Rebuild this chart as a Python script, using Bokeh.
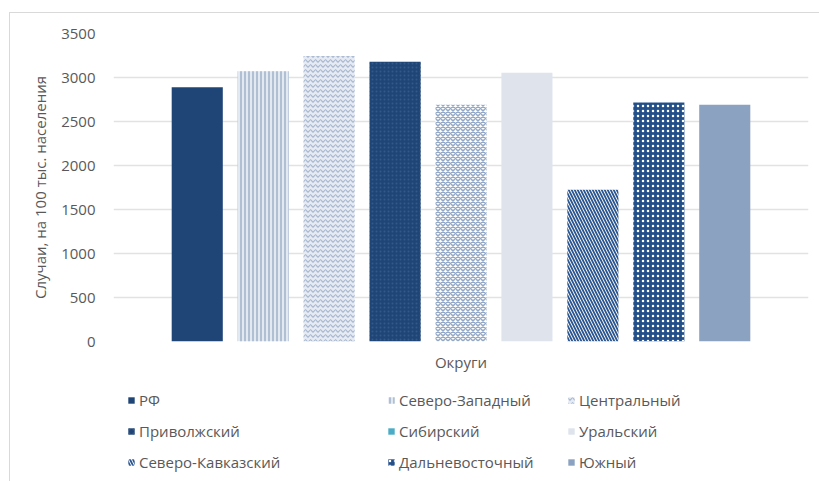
from bokeh.plotting import figure
from bokeh.layouts import column
from bokeh.models import Range1d, FixedTicker, Legend, LegendItem
from bokeh.embed import file_html
from bokeh.resources import INLINE

# Districts and incidence per 100 thousand population
districts = ["РФ", "Северо-Западный", "Центральный", "Приволжский", "Сибирский",
             "Уральский", "Северо-Кавказский", "Дальневосточный", "Южный"]
cases = [2890, 3070, 3245, 3180, 2690, 3055, 1725, 2715, 2690]
y_ticks = [0, 500, 1000, 1500, 2000, 2500, 3000, 3500]

# Fill / hatch style for every district's bar
bar_styles = {
    "РФ": dict(fill_color="#1f4476"),
    "Северо-Западный": dict(fill_color="#e3e9f1", hatch_pattern="vertical_line",
                            hatch_color="#9fb1cb", hatch_scale=4, hatch_weight=1.5),
    "Центральный": dict(fill_color="#e6ebf3", hatch_pattern="horizontal_wave",
                        hatch_color="#a9b9d1", hatch_scale=5, hatch_weight=1.2),
    "Приволжский": dict(fill_color="#1f4476", hatch_pattern="dot",
                        hatch_color="#34588a", hatch_scale=4, hatch_weight=2),
    "Сибирский": dict(fill_color="#ffffff", hatch_pattern="diagonal_cross",
                      hatch_color="#93a8c6", hatch_scale=5, hatch_weight=1.5),
    "Уральский": dict(fill_color="#dfe4ec"),
    "Северо-Кавказский": dict(fill_color="#ffffff", hatch_pattern="left_diagonal_line",
                              hatch_color="#2b5590", hatch_scale=6, hatch_weight=1.8),
    "Дальневосточный": dict(fill_color="#24508a", hatch_pattern="dot",
                            hatch_color="#ffffff", hatch_scale=5, hatch_weight=3),
    "Южный": dict(fill_color="#8ba2c0"),
}
# Legend swatch for Сибирский is a plain teal square
legend_styles = dict(bar_styles)
legend_styles["Сибирский"] = dict(fill_color="#4bacc6")

TEXT = "#595959"
FONT = "Open Sans"
SIZE = "15px"

# ---- main chart ----
p = figure(width=810, height=363, output_backend="svg", toolbar_location=None,
           x_range=Range1d(-1.27, 9.27), y_range=Range1d(0, 3500),
           min_border_left=103, min_border_right=12, min_border_top=20,
           min_border_bottom=35)
p.outline_line_color = None
p.background_fill_color = "white"
p.border_fill_color = "white"

for i, (name, val) in enumerate(zip(districts, cases)):
    p.vbar(x=[i], top=[val], bottom=0, width=0.775, line_color=None,
           **bar_styles[name])

p.yaxis.ticker = FixedTicker(ticks=y_ticks)
p.yaxis.axis_line_color = None
p.yaxis.major_tick_line_color = None
p.yaxis.minor_tick_line_color = None
p.yaxis.major_label_standoff = 12
p.yaxis.major_label_text_font = FONT
p.yaxis.major_label_text_font_size = SIZE
p.yaxis.major_label_text_color = TEXT
p.yaxis.axis_label = "Случаи, на 100 тыс. населения"
p.yaxis.axis_label_text_font = FONT
p.yaxis.axis_label_text_font_size = "15px"
p.yaxis.axis_label_text_font_style = "normal"
p.yaxis.axis_label_text_color = TEXT
p.yaxis.axis_label_standoff = 8

p.xaxis.ticker = FixedTicker(ticks=[])
p.xaxis.axis_line_color = None
p.xaxis.major_tick_line_color = None
p.xaxis.minor_tick_line_color = None
p.xaxis.major_label_text_font_size = "0px"
p.xaxis.axis_label = "Округи"
p.xaxis.axis_label_text_font = FONT
p.xaxis.axis_label_text_font_size = SIZE
p.xaxis.axis_label_text_font_style = "normal"
p.xaxis.axis_label_text_color = TEXT
p.xaxis.axis_label_standoff = 10

p.xgrid.grid_line_color = None
p.ygrid.ticker = FixedTicker(ticks=y_ticks)
p.ygrid.grid_line_color = "#e2e2e2"
p.ygrid.grid_line_width = 1.5

# ---- legend strip below the chart (frame aligned with the chart's frame) ----
lg = figure(width=810, height=106, output_backend="svg", toolbar_location=None,
            x_range=Range1d(0, 1), y_range=Range1d(0, 1),
            x_axis_type=None, y_axis_type=None,
            min_border_left=0, min_border_right=0, min_border_top=0,
            min_border_bottom=0)
lg.outline_line_color = None
lg.grid.visible = False

# swatch renderers sit outside the visible range; only their legend glyphs show
items = {}
for name in districts:
    r = lg.vbar(x=[-5], top=[-5], width=0.5, line_color=None, **legend_styles[name])
    items[name] = LegendItem(label=name, renderers=[r])

columns = [districts[0::3], districts[1::3], districts[2::3]]
col_x = [14, 274, 454]
for names, x0 in zip(columns, col_x):
    leg = Legend(items=[items[n] for n in names], location=(x0, 10),
                 orientation="vertical", glyph_width=8, glyph_height=8,
                 label_height=20, spacing=11, padding=0, margin=0,
                 label_standoff=4, border_line_color=None,
                 background_fill_alpha=0,
                 label_text_font=FONT, label_text_font_size=SIZE,
                 label_text_color=TEXT)
    lg.add_layout(leg, "center")

layout = column(p, lg, spacing=0)
layout.margin = (12, 0, 0, 9)
layout.styles = {"border-top": "1px solid #d9d9d9", "border-left": "1px solid #d9d9d9"}

open("out.html", "w").write(file_html(layout, INLINE))
